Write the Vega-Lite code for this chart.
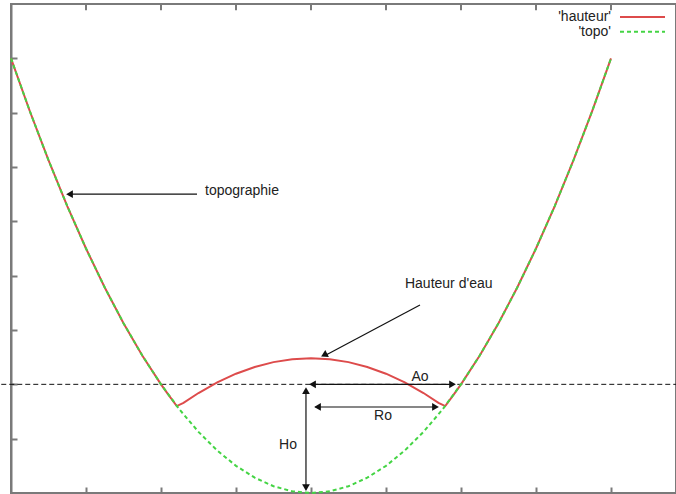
{
  "$schema": "https://vega.github.io/schema/vega-lite/v6.json",
  "autosize": "none",
  "width": 665,
  "height": 489,
  "padding": {"left": 11, "top": 4, "right": 0, "bottom": 1},
  "background": "white",
  "config": {
    "view": {"stroke": "#7a7a7a", "strokeWidth": 2},
    "axis": {"labels": false, "grid": false, "title": null, "domainColor": "#7a7a7a", "domainWidth": 2, "tickColor": "#7a7a7a", "tickWidth": 2, "tickSize": -6},
    "text": {"font": "Liberation Sans", "fontSize": 14, "color": "#222222"}
  },
  "datasets": {
    "curves": [
      {"serie": "topo", "x": -4, "y": 8},
      {"serie": "topo", "x": -3.75, "y": 7.03125},
      {"serie": "topo", "x": -3.5, "y": 6.125},
      {"serie": "topo", "x": -3.25, "y": 5.28125},
      {"serie": "topo", "x": -3, "y": 4.5},
      {"serie": "topo", "x": -2.75, "y": 3.78125},
      {"serie": "topo", "x": -2.5, "y": 3.125},
      {"serie": "topo", "x": -2.25, "y": 2.53125},
      {"serie": "topo", "x": -2, "y": 2},
      {"serie": "topo", "x": -1.75, "y": 1.53125},
      {"serie": "topo", "x": -1.5, "y": 1.125},
      {"serie": "topo", "x": -1.25, "y": 0.78125},
      {"serie": "topo", "x": -1, "y": 0.5},
      {"serie": "topo", "x": -0.75, "y": 0.28125},
      {"serie": "topo", "x": -0.5, "y": 0.125},
      {"serie": "topo", "x": -0.25, "y": 0.03125},
      {"serie": "topo", "x": 0, "y": 0},
      {"serie": "topo", "x": 0.25, "y": 0.03125},
      {"serie": "topo", "x": 0.5, "y": 0.125},
      {"serie": "topo", "x": 0.75, "y": 0.28125},
      {"serie": "topo", "x": 1, "y": 0.5},
      {"serie": "topo", "x": 1.25, "y": 0.78125},
      {"serie": "topo", "x": 1.5, "y": 1.125},
      {"serie": "topo", "x": 1.75, "y": 1.53125},
      {"serie": "topo", "x": 2, "y": 2},
      {"serie": "topo", "x": 2.25, "y": 2.53125},
      {"serie": "topo", "x": 2.5, "y": 3.125},
      {"serie": "topo", "x": 2.75, "y": 3.78125},
      {"serie": "topo", "x": 3, "y": 4.5},
      {"serie": "topo", "x": 3.25, "y": 5.28125},
      {"serie": "topo", "x": 3.5, "y": 6.125},
      {"serie": "topo", "x": 3.75, "y": 7.03125},
      {"serie": "topo", "x": 4, "y": 8},
      {"serie": "hauteur", "x": -4, "y": 8},
      {"serie": "hauteur", "x": -3.75, "y": 7.03125},
      {"serie": "hauteur", "x": -3.5, "y": 6.125},
      {"serie": "hauteur", "x": -3.25, "y": 5.28125},
      {"serie": "hauteur", "x": -3, "y": 4.5},
      {"serie": "hauteur", "x": -2.75, "y": 3.78125},
      {"serie": "hauteur", "x": -2.5, "y": 3.125},
      {"serie": "hauteur", "x": -2.25, "y": 2.53125},
      {"serie": "hauteur", "x": -2, "y": 2},
      {"serie": "hauteur", "x": -1.9, "y": 1.805},
      {"serie": "hauteur", "x": -1.79, "y": 1.6},
      {"serie": "hauteur", "x": -1.7, "y": 1.66},
      {"serie": "hauteur", "x": -1.5, "y": 1.84},
      {"serie": "hauteur", "x": -1.25, "y": 2.036},
      {"serie": "hauteur", "x": -1, "y": 2.196},
      {"serie": "hauteur", "x": -0.75, "y": 2.32},
      {"serie": "hauteur", "x": -0.5, "y": 2.409},
      {"serie": "hauteur", "x": -0.25, "y": 2.462},
      {"serie": "hauteur", "x": 0, "y": 2.48},
      {"serie": "hauteur", "x": 0.25, "y": 2.462},
      {"serie": "hauteur", "x": 0.5, "y": 2.409},
      {"serie": "hauteur", "x": 0.75, "y": 2.32},
      {"serie": "hauteur", "x": 1, "y": 2.196},
      {"serie": "hauteur", "x": 1.25, "y": 2.036},
      {"serie": "hauteur", "x": 1.5, "y": 1.84},
      {"serie": "hauteur", "x": 1.7, "y": 1.66},
      {"serie": "hauteur", "x": 1.79, "y": 1.6},
      {"serie": "hauteur", "x": 1.9, "y": 1.805},
      {"serie": "hauteur", "x": 2, "y": 2},
      {"serie": "hauteur", "x": 2.25, "y": 2.53125},
      {"serie": "hauteur", "x": 2.5, "y": 3.125},
      {"serie": "hauteur", "x": 2.75, "y": 3.78125},
      {"serie": "hauteur", "x": 3, "y": 4.5},
      {"serie": "hauteur", "x": 3.25, "y": 5.28125},
      {"serie": "hauteur", "x": 3.5, "y": 6.125},
      {"serie": "hauteur", "x": 3.75, "y": 7.03125},
      {"serie": "hauteur", "x": 4, "y": 8}
    ],
    "arrows": [
      {"x": -1.52, "y": 5.5, "x2": -3.22, "y2": 5.5},
      {"x": 1.453, "y": 3.46, "x2": 0.2, "y2": 2.54},
      {"x": 0.0, "y": 2, "x2": 1.9, "y2": 2},
      {"x": 0.06, "y": 1.583, "x2": 1.67, "y2": 1.583},
      {"x": -0.067, "y": 1.9, "x2": -0.067, "y2": 0.08}
    ],
    "heads": [
      {"x": -3.22, "y": 5.5, "angle": 270},
      {"x": 0.175, "y": 2.54, "angle": 242.5},
      {"x": 0.02, "y": 2, "angle": 270},
      {"x": 1.887, "y": 2, "angle": 90},
      {"x": 0.087, "y": 1.583, "angle": 270},
      {"x": 1.66, "y": 1.583, "angle": 90},
      {"x": -0.067, "y": 1.885, "angle": 0},
      {"x": -0.067, "y": 0.1, "angle": 180}
    ],
    "labelsLeft": [
      {"x": -1.413, "y": 5.56, "text": "topographie"},
      {"x": 1.253, "y": 3.85, "text": "Hauteur d'eau"}
    ],
    "labelsCenter": [
      {"x": 1.453, "y": 2.14, "text": "Ao"},
      {"x": 0.96, "y": 1.42, "text": "Ro"},
      {"x": -0.307, "y": 0.88, "text": "Ho"}
    ],
    "legend": [
      {"x": 4.0, "y": 8.76, "x2": 4.12, "x3": 4.72, "text": "'hauteur'", "serie": "hauteur"},
      {"x": 4.0, "y": 8.49, "x2": 4.12, "x3": 4.72, "text": "'topo'", "serie": "topo"}
    ],
    "water": [
      {"x": -4.13, "x2": 4.87, "y": 2}
    ],
    "topticks": [
      {"x": -3, "y": 9, "y2": 8.885},
      {"x": -2, "y": 9, "y2": 8.885},
      {"x": -1, "y": 9, "y2": 8.885},
      {"x": 0, "y": 9, "y2": 8.885},
      {"x": 1, "y": 9, "y2": 8.885},
      {"x": 2, "y": 9, "y2": 8.885},
      {"x": 3, "y": 9, "y2": 8.885},
      {"x": 4, "y": 9, "y2": 8.885}
    ]
  },
  "resolve": {"axis": {"x": "independent", "y": "independent"}},
  "layer": [
    {
      "data": {"name": "water"},
      "mark": {"type": "rule", "color": "#111111", "strokeWidth": 1, "strokeDash": [5, 3], "clip": false},
      "encoding": {
        "x": {"field": "x", "type": "quantitative", "scale": {"domain": [-4, 4.8667], "nice": false, "zero": false},
              "axis": {"orient": "bottom", "values": [-3, -2, -1, 0, 1, 2, 3, 4]}},
        "x2": {"field": "x2"},
        "y": {"field": "y", "type": "quantitative", "scale": {"domain": [0, 9], "nice": false, "zero": false},
              "axis": {"orient": "left", "values": [1, 2, 3, 4, 5, 6, 7, 8]}}
      }
    },
    {
      "data": {"name": "curves"},
      "transform": [{"filter": "datum.serie === 'hauteur'"}],
      "mark": {"type": "line", "color": "#dd4b4b", "strokeWidth": 2},
      "encoding": {
        "x": {"field": "x", "type": "quantitative", "axis": null},
        "y": {"field": "y", "type": "quantitative", "axis": null}
      }
    },
    {
      "data": {"name": "curves"},
      "transform": [{"filter": "datum.serie === 'topo'"}],
      "mark": {"type": "line", "color": "#44d444", "strokeWidth": 2, "strokeDash": [4, 3]},
      "encoding": {
        "x": {"field": "x", "type": "quantitative", "axis": null},
        "y": {"field": "y", "type": "quantitative", "axis": null}
      }
    },
    {
      "data": {"name": "arrows"},
      "mark": {"type": "rule", "color": "#111111", "strokeWidth": 1.2},
      "encoding": {
        "x": {"field": "x", "type": "quantitative", "axis": null},
        "y": {"field": "y", "type": "quantitative", "axis": null},
        "x2": {"field": "x2"},
        "y2": {"field": "y2"}
      }
    },
    {
      "data": {"name": "heads"},
      "mark": {"type": "point", "shape": "triangle-up", "filled": true, "color": "#111111", "size": 60, "opacity": 1},
      "encoding": {
        "x": {"field": "x", "type": "quantitative", "axis": null},
        "y": {"field": "y", "type": "quantitative", "axis": null},
        "angle": {"field": "angle", "type": "quantitative", "scale": null}
      }
    },
    {
      "data": {"name": "labelsLeft"},
      "mark": {"type": "text", "baseline": "middle", "align": "left"},
      "encoding": {
        "x": {"field": "x", "type": "quantitative", "axis": null},
        "y": {"field": "y", "type": "quantitative", "axis": null},
        "text": {"field": "text"}
      }
    },
    {
      "data": {"name": "labelsCenter"},
      "mark": {"type": "text", "baseline": "middle", "align": "center"},
      "encoding": {
        "x": {"field": "x", "type": "quantitative", "axis": null},
        "y": {"field": "y", "type": "quantitative", "axis": null},
        "text": {"field": "text"}
      }
    },
    {
      "data": {"name": "legend"},
      "mark": {"type": "text", "baseline": "middle", "align": "right", "clip": false},
      "encoding": {
        "x": {"field": "x", "type": "quantitative", "axis": null},
        "y": {"field": "y", "type": "quantitative", "axis": null},
        "text": {"field": "text"}
      }
    },
    {
      "data": {"name": "legend"},
      "transform": [{"filter": "datum.serie === 'hauteur'"}],
      "mark": {"type": "rule", "color": "#dd4b4b", "strokeWidth": 2},
      "encoding": {
        "x": {"field": "x2", "type": "quantitative", "axis": null},
        "x2": {"field": "x3"},
        "y": {"field": "y", "type": "quantitative", "axis": null}
      }
    },
    {
      "data": {"name": "legend"},
      "transform": [{"filter": "datum.serie === 'topo'"}],
      "mark": {"type": "rule", "color": "#44d444", "strokeWidth": 2, "strokeDash": [4, 3]},
      "encoding": {
        "x": {"field": "x2", "type": "quantitative", "axis": null},
        "x2": {"field": "x3"},
        "y": {"field": "y", "type": "quantitative", "axis": null}
      }
    },
    {
      "data": {"name": "topticks"},
      "mark": {"type": "rule", "color": "#7a7a7a", "strokeWidth": 2, "clip": false},
      "encoding": {
        "x": {"field": "x", "type": "quantitative", "axis": null},
        "y": {"field": "y", "type": "quantitative", "axis": null},
        "y2": {"field": "y2"}
      }
    }
  ]
}
